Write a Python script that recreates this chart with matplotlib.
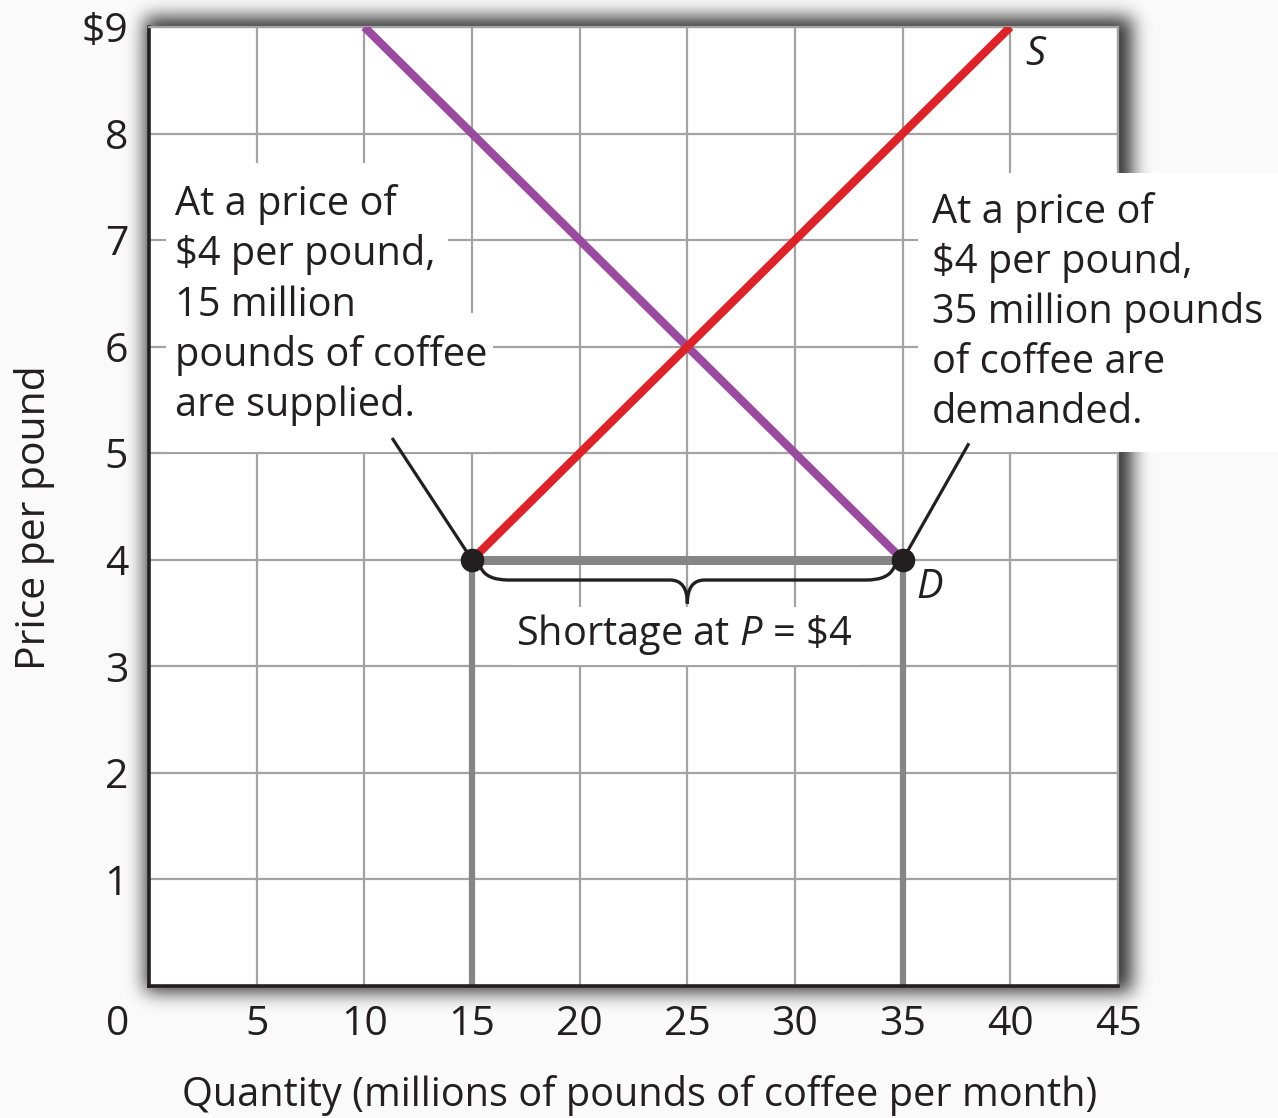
import math
import numpy as np
import matplotlib
matplotlib.use("Agg")
import matplotlib.pyplot as plt
from matplotlib.path import Path
from matplotlib.patches import PathPatch, Rectangle

# ---------------- data ----------------
supply_q = [15, 40]
supply_p = [4, 9]
demand_q = [10, 35]
demand_p = [9, 4]
price_floor = 4
q_supplied = 15
q_demanded = 35
x_ticks = [5, 10, 15, 20, 25, 30, 35, 40, 45]
x_ticklabels = ["5", "10", "15", "20", "25", "30", "35", "40", "45"]
y_ticks = [1, 2, 3, 4, 5, 6, 7, 8, 9]
y_ticklabels = ["1", "2", "3", "4", "5", "6", "7", "8", "$9"]
left_note = ["At a price of", "$4 per pound,", "15 million", "pounds of coffee", "are supplied."]
right_note = ["At a price of", "$4 per pound,", "35 million pounds", "of coffee are", "demanded."]

FONT = "Open Sans"
FS = 28.6
FS_TICK = 29.5
INK = "#231f20"
plt.rcParams["font.family"] = [FONT, "DejaVu Sans"]
plt.rcParams["mathtext.fontset"] = "custom"
plt.rcParams["mathtext.rm"] = FONT
plt.rcParams["mathtext.it"] = FONT + ":italic"

W, H = 1278, 1118
fig = plt.figure(figsize=(W / 100, H / 100), dpi=100, facecolor="#fafafa")

L, R, T, B = 149, 1118, 27, 986
XMAX, YMAX = 45, 9
ax = fig.add_axes([L / W, 1 - B / H, (R - L) / W, (B - T) / H])
ax.set_facecolor("white")


def px2data(px, py):
    return (px - L) / (R - L) * XMAX, (B - py) / (B - T) * YMAX


# drop shadow around the plot frame
erf = np.vectorize(math.erf)
xs = np.arange(W) + 0.5
ys = np.arange(H) + 0.5
s = 13.0
gx = 0.5 * (erf((xs - (L - 4)) / s) - erf((xs - (R + 14)) / s))
gy = 0.5 * (erf((ys - (T - 10)) / s) - erf((ys - (B + 6)) / s))
alpha = 0.8 * np.outer(gy, gx)
img = np.zeros((H, W, 4))
img[..., 3] = alpha
fig.figimage(img, 0, 0, zorder=-1, origin="upper")

ax.set_xlim(0, XMAX)
ax.set_ylim(0, YMAX)
ax.set_xticks(x_ticks)
ax.set_xticklabels(x_ticklabels)
ax.set_yticks(y_ticks)
ax.set_yticklabels(y_ticklabels)
ax.tick_params(length=0, labelsize=FS_TICK, colors=INK)
ax.tick_params(axis="x", pad=13)
ax.tick_params(axis="y", pad=15)
ax.grid(True, color="#a3a3a3", lw=1.6)
ax.set_axisbelow(True)
for sp in ("left", "bottom"):
    ax.spines[sp].set_color(INK)
    ax.spines[sp].set_linewidth(2.6)
for sp in ("top", "right"):
    ax.spines[sp].set_color("#a3a3a3")
    ax.spines[sp].set_linewidth(1.6)

ax.annotate("0", xy=(0, 0), xytext=(-31, -39), textcoords="offset pixels",
            ha="center", va="center", fontsize=FS_TICK, color=INK, annotation_clip=False)

ax.set_xlabel("Quantity (millions of pounds of coffee per month)", fontsize=FS, color=INK)
ax.xaxis.set_label_coords((640 - L) / (R - L), (B - 1095) / (B - T))
ax.xaxis.label.set_va("center")
ax.set_ylabel("Price per pound", fontsize=FS + 0.8, color=INK)
ax.yaxis.set_label_coords((35 - L) / (R - L), (B - 518) / (B - T))
ax.yaxis.label.set_va("center")

# curves
ax.plot(demand_q, demand_p, color="#9b4b9f", lw=6, solid_capstyle="butt", zorder=3)
ax.plot(supply_q, supply_p, color="#dc2329", lw=6, solid_capstyle="butt", zorder=3)

# shortage lines
gray = "#858585"
ax.plot([q_supplied, q_demanded], [price_floor, price_floor], color=gray, lw=6.5, zorder=2.5,
        solid_capstyle="butt")
ax.plot([q_supplied, q_supplied], [0, price_floor], color=gray, lw=4.5, zorder=2.5)
ax.plot([q_demanded, q_demanded], [0, price_floor], color=gray, lw=4.5, zorder=2.5)

# callout lines
ax.plot([q_supplied, q_supplied - 3.67], [price_floor, price_floor + 1.13], color=INK,
        lw=2.3, zorder=4)
ax.plot([q_demanded, q_demanded + 3.04], [price_floor, price_floor + 1.08], color=INK,
        lw=2.3, zorder=4)

ax.plot([q_supplied, q_demanded], [price_floor, price_floor], "o", color=INK,
        markersize=16, zorder=5)

# brace
xm = (q_supplied + q_demanded) / 2
x0, x1 = q_supplied + 0.4, q_demanded - 0.4
y0 = price_floor - 0.07
y1 = price_floor - 0.19
y2 = price_floor - 0.41
a = 1.3
at = 0.8
verts = [(x0, y0), (x0 + 0.25, y1), (x0 + a, y1),
         (xm - at, y1),
         (xm, y1), (xm, y2),
         (xm, y1), (xm + at, y1),
         (x1 - a, y1),
         (x1 - 0.25, y1), (x1, y0)]
codes = [Path.MOVETO, Path.CURVE3, Path.CURVE3,
         Path.LINETO,
         Path.CURVE3, Path.CURVE3,
         Path.CURVE3, Path.CURVE3,
         Path.LINETO,
         Path.CURVE3, Path.CURVE3]
ax.add_patch(PathPatch(Path(verts, codes), fill=False, lw=2.4, color=INK, zorder=4,
                       capstyle="round", joinstyle="miter"))

# "Shortage" label with white backing
bx0, by0 = px2data(510, 665)
bx1, by1 = px2data(860, 607)
ax.add_patch(Rectangle((bx0, by0), bx1 - bx0, by1 - by0, fc="white", ec="none", zorder=3.6))
sx, sy = px2data(684, 645)
ax.text(sx, sy, r"Shortage at $\mathit{P}$ = \$4", fontsize=FS, color=INK,
        ha="center", va="baseline", zorder=4)

ax.text(*px2data(1035, 55), "S", fontsize=FS, style="italic", color=INK, ha="center", va="center")
ax.text(*px2data(930, 588), "D", fontsize=FS, style="italic", color=INK, ha="center", va="center")

# left note: white backing blocks + lines
for (px0, py0, px1, py1) in [(166, 163, 448, 314), (166, 313, 493, 452)]:
    rx0, ry0 = px2data(px0, py1)
    rx1, ry1 = px2data(px1, py0)
    ax.add_patch(Rectangle((rx0, ry0), rx1 - rx0, ry1 - ry0, fc="white", ec="none", zorder=3.4))
for i, line in enumerate(left_note):
    tx, ty = px2data(175, 215 + 50.3 * i)
    ax.text(tx, ty, line, fontsize=FS, color=INK, ha="left", va="baseline", zorder=3.5)

# right note
rx0, ry0 = px2data(918, 452)
rx1, ry1 = px2data(1290, 173)
ax.add_patch(Rectangle((rx0, ry0), rx1 - rx0, ry1 - ry0, fc="white", ec="none", zorder=3.4,
                       clip_on=False))
for i, line in enumerate(right_note):
    tx, ty = px2data(932, 223 + 50.1 * i)
    ax.text(tx, ty, line, fontsize=FS, color=INK, ha="left", va="baseline", zorder=3.5,
            clip_on=False)

fig.savefig("out.png", dpi=100, facecolor=fig.get_facecolor())
